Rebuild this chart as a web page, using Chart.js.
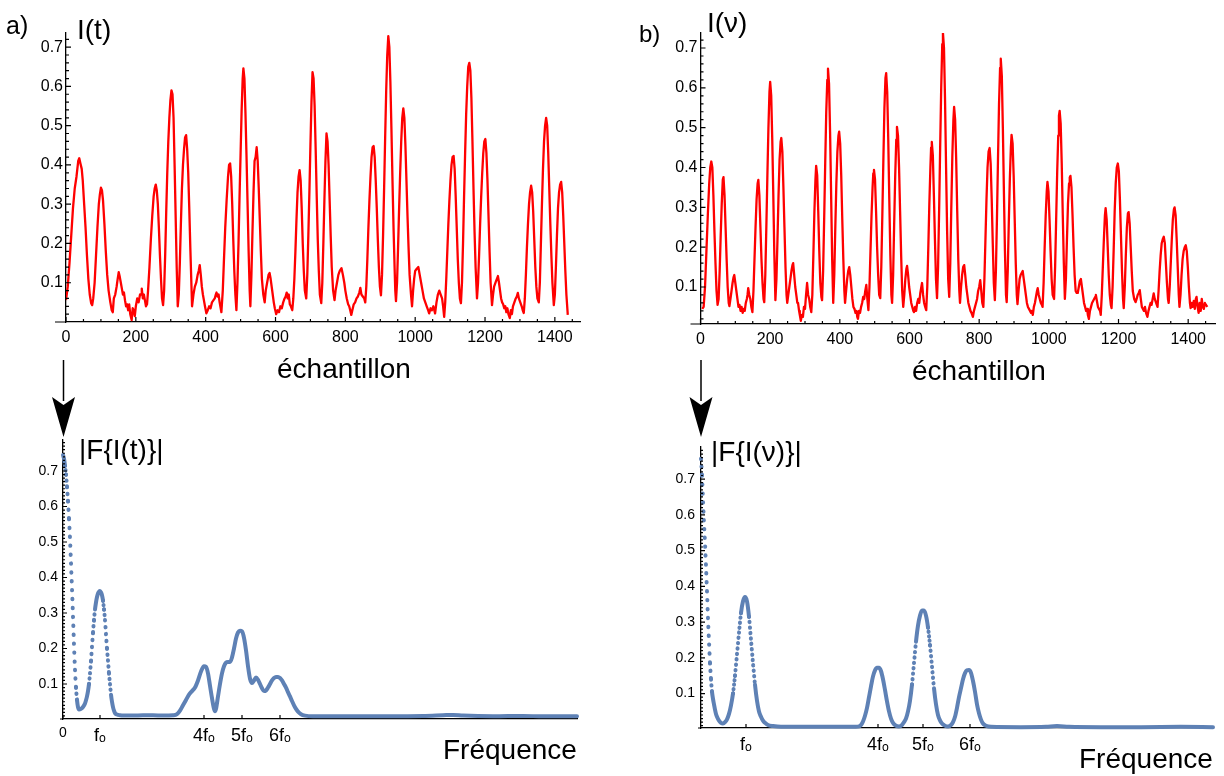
<!DOCTYPE html>
<html><head><meta charset="utf-8">
<script src="https://cdn.jsdelivr.net/npm/chart.js@4.4.1/dist/chart.umd.min.js"></script>
<style>
body{margin:0;background:#fff}
#wrap{position:relative;width:1224px;height:776px;overflow:hidden;background:#fff}
canvas{position:absolute;left:0;top:0}
.t{position:absolute;font-family:'Liberation Sans',Arial,sans-serif;line-height:1;color:#000;white-space:nowrap}
</style></head><body>
<div id="wrap">
<canvas id="cA" width="1224" height="776"></canvas>
<canvas id="cB" width="1224" height="776"></canvas>
<canvas id="cC" width="1224" height="776"></canvas>
<canvas id="cD" width="1224" height="776"></canvas>
<div class="t" style="left:6px;top:13px;font-size:25px">a)</div>
<div class="t" style="left:77px;top:16px;font-size:28px">I(t)</div>
<div class="t" style="left:639px;top:22px;font-size:24px">b)</div>
<div class="t" style="left:707px;top:9px;font-size:28px">I(ν)</div>
<div class="t" style="left:277px;top:355px;font-size:28px">échantillon</div>
<div class="t" style="left:912px;top:357px;font-size:28px">échantillon</div>
<div class="t" style="left:79px;top:436px;font-size:28px">|F{I(t)}|</div>
<div class="t" style="left:711px;top:438px;font-size:28px">|F{I(ν)}|</div>
<div class="t" style="left:443px;top:736px;font-size:28px">Fréquence</div>
<div class="t" style="left:1079px;top:745px;font-size:28px">Fréquence</div>
</div>
<script>
// ---------- data ----------
const sampleA = [0,5,10,15,20,25,30,35,38,41,45,48,52,56,60,64,68,72,75,78,82,86,90,94,97,100,103,106,110,114,118,122,127,131,134,137,141,145,148,151,154,157,160,163,166,169,172,175,178,181,184,188,191,194,197,200,204,208,212,215,217,220,223,226,229,232,235,239,243,247,251,254,257,260,263,266,269,272,275,278,281,284,287,290,293,296,299,302,305,308,311,314,317,320,323,326,329,332,335,338,341,344,347,350,353,356,359,361,365,369,373,377,380,383,386,389,392,395,398,402,406,410,414,418,422,426,429,431,434,437,440,443,445,449,452,456,460,464,467,470,473,476,479,482,485,488,491,494,497,500,503,506,508,511,514,517,520,523,526,528,531,534,537,540,543,546,549,552,555,558,561,565,569,572,576,580,583,586,589,592,595,598,602,606,610,614,618,622,626,629,632,635,638,641,644,648,651,654,657,660,663,666,669,672,675,678,681,684,688,691,694,697,700,703,706,709,712,715,718,721,724,727,731,734,737,740,743,746,749,752,755,758,761,765,769,772,776,780,784,789,793,797,800,804,808,811,814,817,820,824,828,832,836,840,843,846,850,854,857,860,863,866,869,872,875,878,881,884,887,890,893,896,899,902,905,908,911,914,917,920,923,926,929,932,935,938,941,943,945,948,951,954,957,960,963,966,969,972,975,978,981,984,988,991,994,997,1000,1004,1009,1013,1017,1021,1025,1029,1033,1037,1040,1044,1048,1052,1057,1061,1065,1069,1073,1077,1080,1083,1086,1089,1092,1095,1098,1101,1104,1107,1110,1113,1116,1119,1122,1125,1128,1131,1134,1137,1140,1143,1146,1149,1152,1155,1158,1161,1164,1167,1170,1173,1176,1177,1180,1183,1186,1189,1192,1195,1198,1201,1204,1207,1210,1213,1216,1220,1223,1226,1230,1234,1237,1240,1243,1246,1249,1252,1255,1258,1261,1264,1267,1271,1274,1277,1280,1284,1288,1291,1294,1297,1301,1305,1308,1311,1314,1317,1320,1323,1326,1329,1332,1335,1338,1341,1344,1347,1350,1354,1357,1360,1363,1366,1369,1372,1375,1378,1381,1384,1387,1390,1393,1397,1400,1403,1406,1409,1412,1415,1418,1421,1424,1427,1430,1433,1437];
const intensityA = [0.056,0.09,0.15,0.22,0.29,0.34,0.37,0.41,0.417,0.405,0.39,0.36,0.30,0.24,0.17,0.11,0.07,0.048,0.043,0.06,0.10,0.17,0.24,0.30,0.325,0.342,0.335,0.31,0.25,0.18,0.12,0.08,0.05,0.03,0.025,0.06,0.07,0.09,0.11,0.127,0.115,0.10,0.085,0.07,0.075,0.055,0.04,0.045,0.03,0.045,0.02,0.005,0.035,0.03,0.015,0.04,0.06,0.05,0.07,0.07,0.085,0.06,0.07,0.055,0.04,0.045,0.08,0.14,0.21,0.27,0.32,0.34,0.35,0.335,0.30,0.24,0.17,0.11,0.06,0.043,0.08,0.17,0.28,0.38,0.46,0.52,0.565,0.59,0.58,0.52,0.40,0.27,0.14,0.04,0.07,0.15,0.25,0.34,0.40,0.44,0.47,0.476,0.44,0.38,0.29,0.19,0.10,0.04,0.07,0.09,0.10,0.12,0.13,0.145,0.12,0.09,0.07,0.055,0.04,0.022,0.03,0.04,0.035,0.05,0.055,0.06,0.07,0.075,0.065,0.07,0.05,0.035,0.025,0.08,0.15,0.24,0.31,0.37,0.40,0.404,0.37,0.30,0.21,0.13,0.07,0.03,0.10,0.20,0.32,0.43,0.54,0.62,0.646,0.62,0.53,0.42,0.30,0.18,0.08,0.04,0.12,0.23,0.33,0.41,0.42,0.445,0.41,0.34,0.26,0.18,0.11,0.07,0.05,0.08,0.10,0.12,0.125,0.11,0.09,0.07,0.05,0.035,0.02,0.03,0.025,0.04,0.035,0.05,0.06,0.065,0.075,0.06,0.07,0.045,0.04,0.03,0.06,0.11,0.18,0.26,0.33,0.37,0.387,0.36,0.29,0.20,0.13,0.08,0.06,0.12,0.22,0.33,0.45,0.56,0.636,0.62,0.55,0.44,0.32,0.21,0.13,0.07,0.048,0.10,0.20,0.31,0.41,0.48,0.46,0.40,0.31,0.22,0.14,0.08,0.056,0.08,0.10,0.12,0.13,0.137,0.12,0.10,0.08,0.06,0.045,0.04,0.03,0.018,0.03,0.045,0.05,0.06,0.065,0.075,0.087,0.07,0.065,0.06,0.05,0.09,0.16,0.24,0.31,0.37,0.42,0.445,0.448,0.42,0.36,0.29,0.21,0.14,0.09,0.068,0.12,0.22,0.34,0.47,0.59,0.68,0.728,0.70,0.61,0.49,0.36,0.24,0.14,0.08,0.053,0.10,0.19,0.29,0.38,0.46,0.52,0.544,0.52,0.45,0.36,0.27,0.19,0.12,0.07,0.04,0.08,0.11,0.13,0.135,0.14,0.12,0.10,0.08,0.06,0.05,0.04,0.03,0.022,0.035,0.03,0.04,0.022,0.05,0.07,0.08,0.07,0.06,0.04,0.013,0.05,0.11,0.18,0.25,0.31,0.36,0.40,0.42,0.423,0.39,0.32,0.24,0.16,0.10,0.06,0.048,0.10,0.20,0.32,0.43,0.53,0.60,0.65,0.66,0.64,0.57,0.46,0.34,0.23,0.14,0.08,0.06,0.10,0.17,0.25,0.32,0.38,0.43,0.46,0.466,0.43,0.36,0.27,0.18,0.10,0.043,0.07,0.09,0.10,0.11,0.117,0.10,0.08,0.06,0.05,0.045,0.035,0.04,0.025,0.035,0.02,0.01,0.03,0.02,0.04,0.05,0.06,0.065,0.074,0.06,0.05,0.04,0.03,0.023,0.06,0.12,0.19,0.25,0.30,0.33,0.347,0.33,0.28,0.21,0.14,0.09,0.06,0.05,0.10,0.20,0.30,0.39,0.46,0.50,0.52,0.50,0.43,0.34,0.25,0.17,0.10,0.043,0.07,0.14,0.22,0.29,0.33,0.35,0.357,0.33,0.27,0.20,0.13,0.07,0.018];

const sampleB = [5,9,13,17,21,25,28,31,34,37,40,43,46,49,52,55,58,61,64,66,69,72,75,78,81,83,86,89,92,95,97,100,103,106,109,112,115,118,121,124,127,130,133,135,137,140,143,146,149,152,155,158,161,164,166,169,172,175,178,181,183,186,189,192,195,198,200,203,206,209,212,215,218,221,224,227,230,232,235,238,241,244,247,249,252,255,258,261,264,266,269,272,275,278,280,283,285,288,291,294,297,300,303,306,309,312,315,318,321,324,327,330,332,335,338,341,344,347,349,352,355,358,361,364,366,369,372,375,378,381,384,387,390,393,396,398,401,404,407,410,413,415,418,421,424,427,430,433,436,439,442,445,448,450,452,455,458,461,464,467,470,473,476,479,482,485,488,491,494,496,498,501,504,507,510,513,516,519,522,525,528,531,533,536,539,542,545,548,550,553,556,559,562,564,567,570,573,576,579,582,585,588,591,593,596,599,602,605,608,611,613,616,619,622,625,628,631,634,636,639,642,645,648,651,654,657,660,662,664,667,670,673,676,679,682,685,688,691,694,696,699,702,705,708,711,714,717,720,723,726,728,731,734,737,740,743,745,748,751,754,757,760,763,766,769,772,775,778,780,782,785,788,791,794,797,800,803,806,809,812,815,818,821,824,827,830,833,836,839,842,845,848,851,854,857,860,862,865,868,871,874,877,879,882,885,888,891,893,896,899,902,905,908,910,913,916,919,922,925,928,931,934,937,940,943,946,949,951,954,957,960,963,966,968,971,974,977,980,982,985,988,991,994,996,999,1002,1005,1008,1011,1015,1018,1021,1024,1027,1029,1031,1034,1037,1040,1043,1046,1049,1052,1055,1058,1060,1062,1065,1068,1071,1074,1077,1080,1083,1086,1089,1092,1095,1098,1101,1104,1107,1110,1112,1115,1118,1121,1124,1127,1130,1133,1135,1138,1141,1144,1147,1149,1152,1155,1158,1161,1163,1166,1169,1172,1175,1178,1180,1183,1186,1189,1192,1195,1198,1201,1204,1207,1210,1213,1215,1218,1221,1224,1227,1229,1232,1235,1238,1241,1245,1249,1252,1255,1258,1261,1264,1267,1270,1273,1276,1279,1283,1286,1289,1292,1295,1298,1301,1304,1308,1312,1315,1318,1321,1324,1327,1330,1333,1336,1339,1342,1344,1347,1350,1353,1356,1359,1361,1364,1367,1370,1373,1375,1378,1381,1384,1387,1390,1393,1396,1399,1402,1405,1407,1410,1413,1416,1419,1422,1424,1427,1430,1433,1436,1439,1442,1445,1448,1451,1455];
const intensityB = [0.045,0.05,0.10,0.19,0.28,0.36,0.40,0.415,0.40,0.33,0.24,0.16,0.09,0.055,0.07,0.14,0.23,0.31,0.37,0.376,0.33,0.25,0.17,0.10,0.06,0.052,0.07,0.09,0.11,0.125,0.13,0.11,0.09,0.07,0.05,0.055,0.04,0.05,0.035,0.045,0.04,0.06,0.07,0.08,0.097,0.08,0.07,0.05,0.037,0.09,0.17,0.25,0.32,0.36,0.369,0.33,0.25,0.17,0.11,0.07,0.062,0.13,0.25,0.38,0.50,0.59,0.615,0.58,0.47,0.33,0.18,0.067,0.12,0.22,0.33,0.42,0.465,0.474,0.44,0.35,0.25,0.15,0.08,0.06,0.08,0.10,0.12,0.14,0.155,0.16,0.13,0.10,0.08,0.06,0.06,0.04,0.03,0.015,0.03,0.025,0.05,0.045,0.08,0.11,0.08,0.07,0.05,0.037,0.08,0.18,0.29,0.37,0.404,0.38,0.29,0.19,0.11,0.075,0.067,0.14,0.27,0.41,0.54,0.62,0.648,0.61,0.49,0.33,0.17,0.06,0.13,0.25,0.36,0.44,0.48,0.49,0.46,0.38,0.27,0.17,0.09,0.06,0.09,0.12,0.14,0.15,0.13,0.10,0.07,0.05,0.045,0.035,0.04,0.025,0.02,0.04,0.035,0.05,0.06,0.075,0.07,0.09,0.105,0.07,0.042,0.10,0.19,0.28,0.35,0.385,0.394,0.37,0.29,0.20,0.13,0.08,0.072,0.15,0.28,0.42,0.55,0.625,0.637,0.59,0.47,0.32,0.18,0.08,0.06,0.13,0.26,0.38,0.47,0.502,0.48,0.40,0.29,0.18,0.09,0.05,0.08,0.12,0.145,0.153,0.13,0.10,0.08,0.06,0.05,0.04,0.037,0.05,0.04,0.06,0.07,0.06,0.085,0.10,0.11,0.08,0.06,0.05,0.042,0.10,0.20,0.31,0.40,0.45,0.464,0.43,0.33,0.22,0.12,0.072,0.15,0.29,0.45,0.60,0.71,0.738,0.70,0.57,0.40,0.24,0.12,0.075,0.16,0.30,0.43,0.52,0.552,0.52,0.42,0.29,0.17,0.09,0.06,0.10,0.13,0.15,0.155,0.13,0.10,0.08,0.06,0.05,0.04,0.035,0.03,0.025,0.04,0.05,0.06,0.07,0.09,0.10,0.117,0.09,0.06,0.05,0.12,0.22,0.32,0.40,0.44,0.449,0.41,0.32,0.21,0.11,0.067,0.14,0.27,0.42,0.56,0.65,0.673,0.63,0.50,0.34,0.19,0.08,0.062,0.14,0.26,0.37,0.45,0.482,0.46,0.38,0.27,0.16,0.08,0.057,0.09,0.12,0.13,0.135,0.14,0.12,0.10,0.08,0.06,0.05,0.045,0.04,0.035,0.04,0.03,0.05,0.06,0.075,0.09,0.097,0.08,0.07,0.06,0.055,0.05,0.11,0.20,0.28,0.34,0.364,0.34,0.27,0.19,0.12,0.08,0.07,0.15,0.27,0.39,0.48,0.53,0.542,0.51,0.41,0.28,0.16,0.07,0.12,0.22,0.31,0.36,0.375,0.379,0.35,0.28,0.20,0.13,0.09,0.085,0.085,0.10,0.115,0.12,0.10,0.08,0.06,0.05,0.04,0.045,0.03,0.02,0.04,0.05,0.06,0.065,0.07,0.075,0.08,0.065,0.05,0.045,0.04,0.03,0.08,0.15,0.22,0.28,0.298,0.27,0.20,0.13,0.08,0.055,0.047,0.10,0.19,0.29,0.36,0.40,0.41,0.39,0.32,0.23,0.14,0.07,0.047,0.10,0.18,0.25,0.285,0.288,0.26,0.20,0.14,0.09,0.07,0.062,0.07,0.08,0.085,0.092,0.07,0.05,0.045,0.04,0.05,0.035,0.025,0.04,0.05,0.06,0.055,0.07,0.084,0.07,0.06,0.05,0.09,0.14,0.18,0.21,0.22,0.226,0.21,0.16,0.11,0.07,0.06,0.10,0.16,0.22,0.27,0.295,0.30,0.28,0.22,0.15,0.08,0.05,0.08,0.13,0.17,0.19,0.20,0.205,0.19,0.15,0.10,0.06,0.047,0.06,0.05,0.065,0.045,0.07,0.075,0.05,0.035,0.06,0.04,0.07,0.05,0.045,0.06,0.055,0.05];

const freqC = [0,1,2,3,4,5,6,7,8,9,10,11,12,13,14,15,16,18,20,22,23,24,25,26,27,28,29,30,31,32,33,34,35,36,37,38,39,40,41,42,43,44,45,46,47,48,49,50,51,52,54,57,60,70,80,90,100,110,114,117,120,123,126,129,132,135,138,141,143,145,147,149,151,152,153,155,157,159,161,163,165,167,169,171,173,175,177,179,181,183,185,187,189,191,193,195,197,199,201,203,205,207,209,211,213,215,217,219,221,223,225,227,229,231,233,235,238,242,250,270,300,330,360,380,390,400,430,460,480,514];
const ampC = [0.745,0.735,0.715,0.69,0.655,0.615,0.565,0.51,0.44,0.37,0.29,0.21,0.14,0.09,0.055,0.035,0.028,0.03,0.035,0.045,0.054,0.065,0.08,0.10,0.13,0.165,0.205,0.245,0.28,0.31,0.33,0.345,0.355,0.36,0.362,0.358,0.35,0.335,0.31,0.28,0.24,0.20,0.165,0.13,0.10,0.07,0.05,0.035,0.025,0.018,0.014,0.012,0.011,0.011,0.012,0.012,0.011,0.012,0.015,0.025,0.04,0.055,0.07,0.08,0.09,0.11,0.135,0.15,0.148,0.13,0.095,0.06,0.03,0.023,0.03,0.065,0.10,0.13,0.15,0.16,0.162,0.162,0.175,0.20,0.228,0.245,0.25,0.248,0.23,0.195,0.15,0.115,0.103,0.11,0.118,0.112,0.10,0.088,0.08,0.082,0.09,0.10,0.11,0.117,0.12,0.12,0.117,0.11,0.10,0.09,0.077,0.065,0.052,0.04,0.03,0.022,0.015,0.011,0.009,0.009,0.009,0.009,0.01,0.012,0.013,0.011,0.009,0.01,0.009,0.009];

const freqD = [0,1,2,3,4,5,6,7,8,9,10,11,12,13,14,15,16,18,20,22,24,26,28,30,32,34,36,38,40,42,44,46,48,50,52,54,56,58,60,62,64,67,72,80,100,120,140,155,158,160,162,164,166,168,170,172,174,176,178,180,182,184,186,188,190,192,195,198,201,203,205,207,209,211,213,215,217,219,221,223,225,227,229,231,233,235,237,239,241,244,247,250,252,254,256,258,260,262,264,266,268,270,272,274,276,278,280,282,285,290,320,345,356,368,400,440,480,512];
const ampD = [0.757,0.71,0.64,0.577,0.52,0.455,0.385,0.31,0.245,0.185,0.14,0.105,0.085,0.07,0.055,0.043,0.035,0.024,0.018,0.016,0.02,0.028,0.043,0.067,0.10,0.15,0.21,0.27,0.325,0.358,0.37,0.358,0.315,0.25,0.185,0.125,0.08,0.05,0.035,0.024,0.018,0.012,0.009,0.007,0.007,0.007,0.007,0.007,0.008,0.012,0.022,0.038,0.06,0.09,0.12,0.148,0.165,0.172,0.172,0.163,0.14,0.11,0.078,0.05,0.03,0.018,0.01,0.008,0.012,0.02,0.03,0.05,0.08,0.125,0.185,0.245,0.29,0.318,0.332,0.332,0.318,0.285,0.235,0.175,0.115,0.07,0.04,0.025,0.016,0.01,0.008,0.012,0.02,0.035,0.06,0.09,0.115,0.14,0.157,0.165,0.166,0.158,0.135,0.105,0.07,0.045,0.027,0.016,0.01,0.007,0.006,0.007,0.009,0.007,0.006,0.006,0.007,0.006];

const timeTicks = [0,200,400,600,800,1000,1200,1400];
const ampTicks = [0.1,0.2,0.3,0.4,0.5,0.6,0.7];
const freqTicksC = [0,37,141,179,217];
const freqLabelsC = ['0','fₒ','4fₒ','5fₒ','6fₒ'];
const freqTicksD = [45,177,222,269];
const freqLabelsD = ['fₒ','4fₒ','5fₒ','6fₒ'];

// ---------- rendering ----------
Chart.defaults.font.family = "'Liberation Sans', Arial, sans-serif";
const W = 1224, H = 776;
const zip = (xs, ys) => xs.map((x, i) => ({x, y: ys[i]}));

const deco = {
  id: 'deco',
  afterDraw(chart, args, o) {
    const {ctx, chartArea: a} = chart;
    const xs = chart.scales.x, ys = chart.scales.y;
    ctx.save();
    ctx.strokeStyle = '#000';
    ctx.lineWidth = 1.2;
    ctx.beginPath();
    ctx.moveTo(a.left - o.stub, a.bottom); ctx.lineTo(a.left, a.bottom);
    const yMaj = ys.ticks.map(t => t.value);
    for (let i = Math.ceil(ys.min / o.yMinor); i * o.yMinor <= ys.max + 1e-9; i++) {
      const v = i * o.yMinor;
      const maj = yMaj.some(m => Math.abs(m - v) < 1e-6);
      const py = ys.getPixelForValue(v);
      if (py > a.bottom - 0.5) continue;
      ctx.moveTo(a.left, py); ctx.lineTo(a.left + (maj ? o.major : o.minor), py);
    }
    const xMaj = xs.ticks.map(t => t.value);
    xMaj.forEach(v => { const px = xs.getPixelForValue(v); ctx.moveTo(px, a.bottom); ctx.lineTo(px, a.bottom - o.major); });
    if (o.xMinor) {
      for (let i = Math.ceil(xs.min / o.xMinor); i * o.xMinor <= xs.max; i++) {
        const v = i * o.xMinor;
        if (xMaj.some(m => Math.abs(m - v) < 1e-6)) continue;
        const px = xs.getPixelForValue(v);
        ctx.moveTo(px, a.bottom); ctx.lineTo(px, a.bottom - o.minor);
      }
    }
    ctx.stroke();
    if (o.arrow) {
      const A = o.arrow;
      ctx.lineWidth = 1.5;
      ctx.beginPath(); ctx.moveTo(A.x, A.top); ctx.lineTo(A.x, A.back + 4); ctx.stroke();
      ctx.fillStyle = '#000';
      ctx.beginPath();
      ctx.moveTo(A.x, A.tip);
      ctx.lineTo(A.x - A.half, A.back);
      ctx.lineTo(A.x, A.back + A.notch);
      ctx.lineTo(A.x + A.half, A.back);
      ctx.closePath(); ctx.fill();
    }
    ctx.restore();
  }
};

function panel(id, area, xr, yr, datasets, ax) {
  const YW = 60, XH = 45;
  return new Chart(document.getElementById(id), {
    type: 'line',
    data: {datasets},
    options: {
      responsive: false, animation: false, devicePixelRatio: 1, events: [],
      layout: {padding: {left: area.l - YW, right: W - area.r, top: area.t, bottom: H - area.b - XH}},
      plugins: {legend: {display: false}, tooltip: {enabled: false}, deco: ax.deco},
      scales: {
        x: {
          type: 'linear', min: xr[0], max: xr[1],
          grid: {display: false, drawTicks: false},
          border: {display: true, color: '#000', width: 1.3},
          afterBuildTicks: s => { s.ticks = ax.xTicks.map(v => ({value: v})); },
          afterFit: s => { s.height = XH; },
          ticks: {autoSkip: false, maxRotation: 0, padding: ax.xPad, color: '#000', font: ax.xFont, callback: ax.xLabel}
        },
        y: {
          type: 'linear', min: yr[0], max: yr[1],
          grid: {display: false, drawTicks: false},
          border: {display: true, color: '#000', width: 1.3},
          afterBuildTicks: s => { s.ticks = ax.yTicks.map(v => ({value: v})); },
          afterFit: s => { s.width = YW; },
          ticks: {autoSkip: false, padding: ax.yPad, color: '#000', font: ax.yFont, callback: v => v.toFixed(1)}
        }
      }
    },
    plugins: [deco]
  });
}

const redLine = (xs, ys) => ({data: zip(xs, ys), borderColor: '#ff0000', borderWidth: 2.3, pointRadius: 0, tension: 0, fill: false, borderJoinStyle: 'round'});
const dotted = ctx => {
  const dx = Math.abs(ctx.p1.x - ctx.p0.x), dy = Math.abs(ctx.p1.y - ctx.p0.y);
  const g = Math.round(0.45 * dy / Math.max(dx, 0.01) * 2) / 2;
  return g > 3.5 ? [0.4, Math.min(g, 8.5)] : undefined;
};
const blueDots = (xs, ys) => ({data: zip(xs, ys), borderColor: '#5e81b5', borderWidth: 4, borderCapStyle: 'round', borderJoinStyle: 'round', pointRadius: 0, cubicInterpolationMode: 'monotone', fill: false, clip: false, segment: {borderDash: dotted}});

panel('cA', {l: 66, r: 580, t: 33, b: 322}, [0, 1472], [0, 0.736], [redLine(sampleA, intensityA)], {
  xTicks: timeTicks, yTicks: ampTicks, xPad: 6, yPad: 3,
  xFont: {size: 16}, yFont: {size: 16}, xLabel: v => String(v),
  deco: {stub: 11, major: 5, minor: 3, yMinor: 0.02, xMinor: 50}
});
panel('cB', {l: 700.5, r: 1215, t: 33, b: 324}, [0, 1477], [0.0071, 0.7377], [redLine(sampleB, intensityB)], {
  xTicks: timeTicks, yTicks: ampTicks, xPad: 6, yPad: 3,
  xFont: {size: 16}, yFont: {size: 16}, xLabel: v => String(v),
  deco: {stub: 10, major: 5, minor: 3, yMinor: 0.02, xMinor: 50}
});
panel('cC', {l: 63, r: 577, t: 440, b: 719}, [0, 514], [0.0014, 0.7873], [blueDots(freqC, ampC)], {
  xTicks: freqTicksC, yTicks: ampTicks, xPad: 6, yPad: 5,
  xFont: c => ({size: c.index === 0 ? 14 : 18}), yFont: {size: 14},
  xLabel: (v, i) => freqLabelsC[i],
  deco: {stub: 3, major: 4, minor: 2, yMinor: 0.01, arrow: {x: 63.5, top: 360, back: 397, tip: 437, half: 11.5, notch: 8}}
});
panel('cD', {l: 701, r: 1213, t: 447, b: 728}, [0, 512], [0.0036, 0.7897], [blueDots(freqD, ampD)], {
  xTicks: freqTicksD, yTicks: ampTicks, xPad: 6, yPad: 6,
  xFont: {size: 18}, yFont: {size: 14},
  xLabel: (v, i) => freqLabelsD[i],
  deco: {stub: 3, major: 4, minor: 2, yMinor: 0.01, arrow: {x: 701, top: 360, back: 397, tip: 437, half: 11.5, notch: 8}}
});
</script>
</body></html>
